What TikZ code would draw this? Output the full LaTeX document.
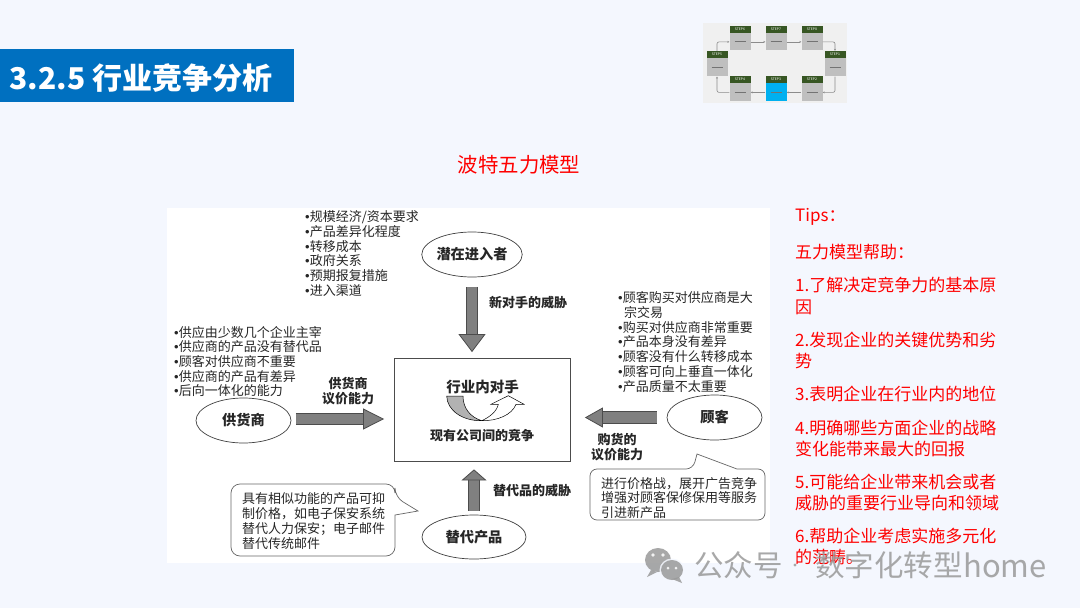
\documentclass[tikz,border=0pt]{standalone}
\usepackage{fontspec}
\setmainfont{Noto Sans CJK SC}
\newfontfamily\dotfont{Liberation Sans}
\usetikzlibrary{arrows.meta,positioning,shapes.geometric}

\definecolor{pagebg}{HTML}{F4F7FE}
\definecolor{headblue}{HTML}{0070C0}
\definecolor{stepgreen}{HTML}{375623}
\definecolor{stepgray}{HTML}{BFBFBF}
\definecolor{stepblue}{HTML}{00B0F0}
\definecolor{inktext}{HTML}{262626}
\definecolor{tipred}{HTML}{FF0000}

\tikzset{
    force/.style={ellipse, draw=black!75, fill=white, line width=0.7pt, inner sep=0pt, text=inktext,
        font=\fontsize{14.2}{17}\selectfont\bfseries},
    forcearrow/.style={draw=black!70, line width=0.8pt, double=black!50, double distance=10.5pt},
    tiplabel/.style={anchor=west, text=tipred, font=\fontsize{17}{20}\selectfont, inner sep=0pt},
    listtext/.style={anchor=west, align=left, text=inktext, inner sep=0pt,
        font=\fontsize{13}{14.7}\selectfont},
    boldtext/.style={align=center, text=inktext, inner sep=0pt,
        font=\fontsize{13}{14.5}\selectfont\bfseries},
    bubble/.style={draw=black!60, fill=white, line width=0.7pt},
    stephead/.style={fill=stepgreen, text=white, minimum width=21pt, minimum height=7pt, inner sep=0pt,
        font=\fontsize{3.4}{4}\selectfont},
    stepbody/.style={fill=stepgray, minimum width=21pt, inner sep=0pt, below=0pt of #1},
    steplink/.style={draw=black!45, line width=0.6pt, rounded corners=2pt, -{Stealth[length=2pt,width=2pt]}},
    markmark/.style={anchor=west, inner sep=0pt, font=\fontsize{29.5}{32}\selectfont}
}

\newcommand{\smudge}{\textcolor{black!55}{\rule[0.4pt]{11pt}{0.7pt}}}
\newcommand{\listdot}{{\dotfont •}}

\begin{document}
\begin{tikzpicture}[x=1pt,y=-1pt]
    \useasboundingbox (0,0) rectangle (1080,608);
    \fill[pagebg] (0,0) rectangle (1080,608);

    %header
    \fill[headblue] (0,49) rectangle (294,102);
    \node[text=white, font=\fontsize{30}{32}\selectfont\bfseries] (headline) at (141,78) {3.2.5 行业竞争分析};

    %step thumbnail
    \fill[black!6] (703,23) rectangle (847,103);
    \node[stephead] (h6) at (740,29.5) {STEP6};
    \node[stepbody=h6, minimum height=17pt] (b6) {\smudge};
    \node[stephead] (h7) at (776,29.5) {STEP7};
    \node[stepbody=h7, minimum height=17pt] (b7) {\smudge};
    \node[stephead] (h8) at (812,29.5) {STEP8};
    \node[stepbody=h8, minimum height=17pt] (b8) {\smudge};
    \node[stephead] (h5) at (717,54.5) {STEP5};
    \node[stepbody=h5, minimum height=18pt] (b5) {\smudge};
    \node[stephead] (h1) at (835,54.5) {STEP1};
    \node[stepbody=h1, minimum height=18pt] (b1) {\smudge};
    \node[stephead] (h4) at (740,79.5) {STEP4};
    \node[stepbody=h4, minimum height=18pt] (b4) {\smudge};
    \node[stephead] (h3) at (776,79.5) {STEP3};
    \node[stepbody=h3, minimum height=18pt, fill=stepblue] (b3) {\smudge};
    \node[stephead] (h2) at (812,79.5) {STEP2};
    \node[stepbody=h2, minimum height=18pt] (b2) {\smudge};

    \draw[steplink] (h5.north) |- (b6.west);
    \draw[steplink] (b6) -- (b7);
    \draw[steplink] (b7) -- (b8);
    \draw[steplink] (b8.east) -| (h1.north);
    \draw[steplink] (b1.south) |- (b2.east);
    \draw[steplink] (b2) -- (b3);
    \draw[steplink] (b3) -- (b4);
    \draw[steplink] (b4.west) -| (b5.south);

    %title
    \node[text=tipred, font=\fontsize{20.4}{24}\selectfont] (title) at (519,165) {波特五力模型};

    %model panel
    \fill[white] (167,208) rectangle (770,563);

    \node[draw=black!70, line width=0.8pt, minimum width=176pt, minimum height=103pt, inner sep=0pt] (rival) at (482,409.5) {};
    \node[force, minimum width=98pt, minimum height=45pt] (entrant) at (472,254.5) {潜在进入者};
    \node[force, minimum width=95pt, minimum height=45pt] (supplier) at (243.5,420.5) {供货商};
    \node[force, minimum width=95pt, minimum height=45pt] (buyer) at (714.5,417.5) {顾客};
    \node[force, minimum width=104pt, minimum height=44pt] (substitute) at (474,537) {替代产品};

    %block arrows
    \draw[forcearrow, -{Triangle[length=18pt,width=27pt,fill=black!50]}, shorten <=9.5pt, shorten >=5.5pt]
        (entrant.south) -- (entrant.south |- rival.north);
    \draw[forcearrow, -{Triangle[length=21pt,width=21pt,fill=black!50]}, shorten <=4.5pt, shorten >=9.5pt]
        ([yshift=1.5pt]supplier.east) -- ([yshift=1.5pt]supplier.east -| rival.west);
    \draw[forcearrow, -{Triangle[length=18pt,width=20pt,fill=black!50]}, shorten <=10pt, shorten >=14.5pt]
        (buyer.west) -- (buyer.west -| rival.east);
    \draw[forcearrow, -{Triangle[length=11pt,width=25pt,fill=black!50]}, shorten <=4pt, shorten >=8pt]
        (substitute.north) -- (substitute.north |- rival.south);

    %rival symbol
    \draw[fill=black!30, line width=0.5pt] (446.7,396) .. controls (447,410) and (462,421) .. (481.7,420.7)
        .. controls (470,417) and (463,408) .. (463,396) -- cycle;
    \draw[fill=white, line width=0.5pt] (481.7,420.7) .. controls (490,417) and (497,411) .. (498.3,404.3)
        -- (491,404.3) -- (508.3,395.7) -- (524,404.3) -- (516,404.3)
        .. controls (512,415) and (497,421) .. (481.7,420.7) -- cycle;
    \node[boldtext, font=\fontsize{14.5}{17}\selectfont\bfseries] (rivaltop) at (482.7,386.7) {行业内对手};
    \node[boldtext] (rivalbottom) at (482,436) {现有公司间的竞争};

    %arrow labels
    \node[boldtext] (threatnew) at (528,303) {新对手的威胁};
    \node[boldtext] (powersupplier) at (348,391) {供货商\\议价能力};
    \node[boldtext] (powerbuyer) at (617,447) {购货的\\议价能力};
    \node[boldtext] (threatsub) at (532,491) {替代品的威胁};

    %lists
    \node[listtext] (entrylist) at (305,253.5) {\listdot 规模经济/资本要求\\\listdot 产品差异化程度\\\listdot 转移成本\\\listdot 政府关系\\\listdot 预期报复措施\\\listdot 进入渠道};
    \node[listtext] (supplierlist) at (174,361.5) {\listdot 供应由少数几个企业主宰\\\listdot 供应商的产品没有替代品\\\listdot 顾客对供应商不重要\\\listdot 供应商的产品有差异\\\listdot 后向一体化的能力};
    \node[listtext] (buyerlist) at (618,342) {\listdot 顾客购买对供应商是大\\\hspace*{6pt}宗交易\\\listdot 购买对供应商非常重要\\\listdot 产品本身没有差异\\\listdot 顾客没有什么转移成本\\\listdot 顾客可向上垂直一体化\\\listdot 产品质量不太重要};

    %callouts
    \draw[bubble, rounded corners=9pt] (300,484) -- (395,484) -- (395,497) [sharp corners] -- (418,511) -- (395,515)
        [rounded corners=9pt] -- (395,556) -- (231,556) -- (231,484) -- cycle;
    \node[listtext] (subnote) at (242,521) {具有相似功能的产品可抑\\制价格，如电子保安系统\\替代人力保安；电子邮件\\替代传统邮件};
    \draw[bubble, rounded corners=7pt] (640,469) -- (693,469) [sharp corners] -- (697,454) -- (737,469)
        [rounded corners=7pt] -- (765,469) -- (765,520) -- (590,520) -- (590,469) -- cycle;
    \node[listtext] (buyernote) at (601,498) {进行价格战，展开广告竞争\\增强对顾客保修保用等服务\\引进新产品};

    %tips
    \node[tiplabel] (tip0) at (795,217) {Tips：};
    \node[tiplabel] (tipa) at (795,252) {五力模型帮助：};
    \node[tiplabel] (tip1a) at (795,285) {1.了解决定竞争力的基本原};
    \node[tiplabel] (tip1b) at (795,307) {因};
    \node[tiplabel] (tip2a) at (795,340) {2.发现企业的关键优势和劣};
    \node[tiplabel] (tip2b) at (795,361) {势};
    \node[tiplabel] (tip3) at (795,394) {3.表明企业在行业内的地位};
    \node[tiplabel] (tip4a) at (795,428) {4.明确哪些方面企业的战略};
    \node[tiplabel] (tip4b) at (795,449) {变化能带来最大的回报};
    \node[tiplabel] (tip5a) at (795,482) {5.可能给企业带来机会或者};
    \node[tiplabel] (tip5b) at (795,503) {威胁的重要行业导向和领域};
    \node[tiplabel] (tip6a) at (795,536) {6.帮助企业考虑实施多元化};
    \node[tiplabel] (tip6b) at (795,557) {的范畴。};

    %watermark
    \begin{scope}[black!40, opacity=0.85]
        \fill (658,560) ellipse (13pt and 12pt);
        \fill (651,570) -- (647,577) -- (657,572) -- cycle;
        \fill[pagebg] (672,570) ellipse (12.5pt and 11.5pt);
        \fill (672,570) ellipse (11pt and 10pt);
        \fill (679,577) -- (682,583) -- (672,579) -- cycle;
        \fill[white] (653,555) circle (1.8pt) (663,555) circle (1.8pt) (668,568) circle (1.5pt) (676,568) circle (1.5pt);
        \node[markmark] (wechat) at (694,565) {公众号};
        \fill (795,565) circle (1.6pt);
        \node[markmark] (account) at (815,565) {数字化转型};
        \node[markmark, font=\fontsize{31}{32}\selectfont] (home) at (963,565) {home};
    \end{scope}
\end{tikzpicture}
\end{document}
